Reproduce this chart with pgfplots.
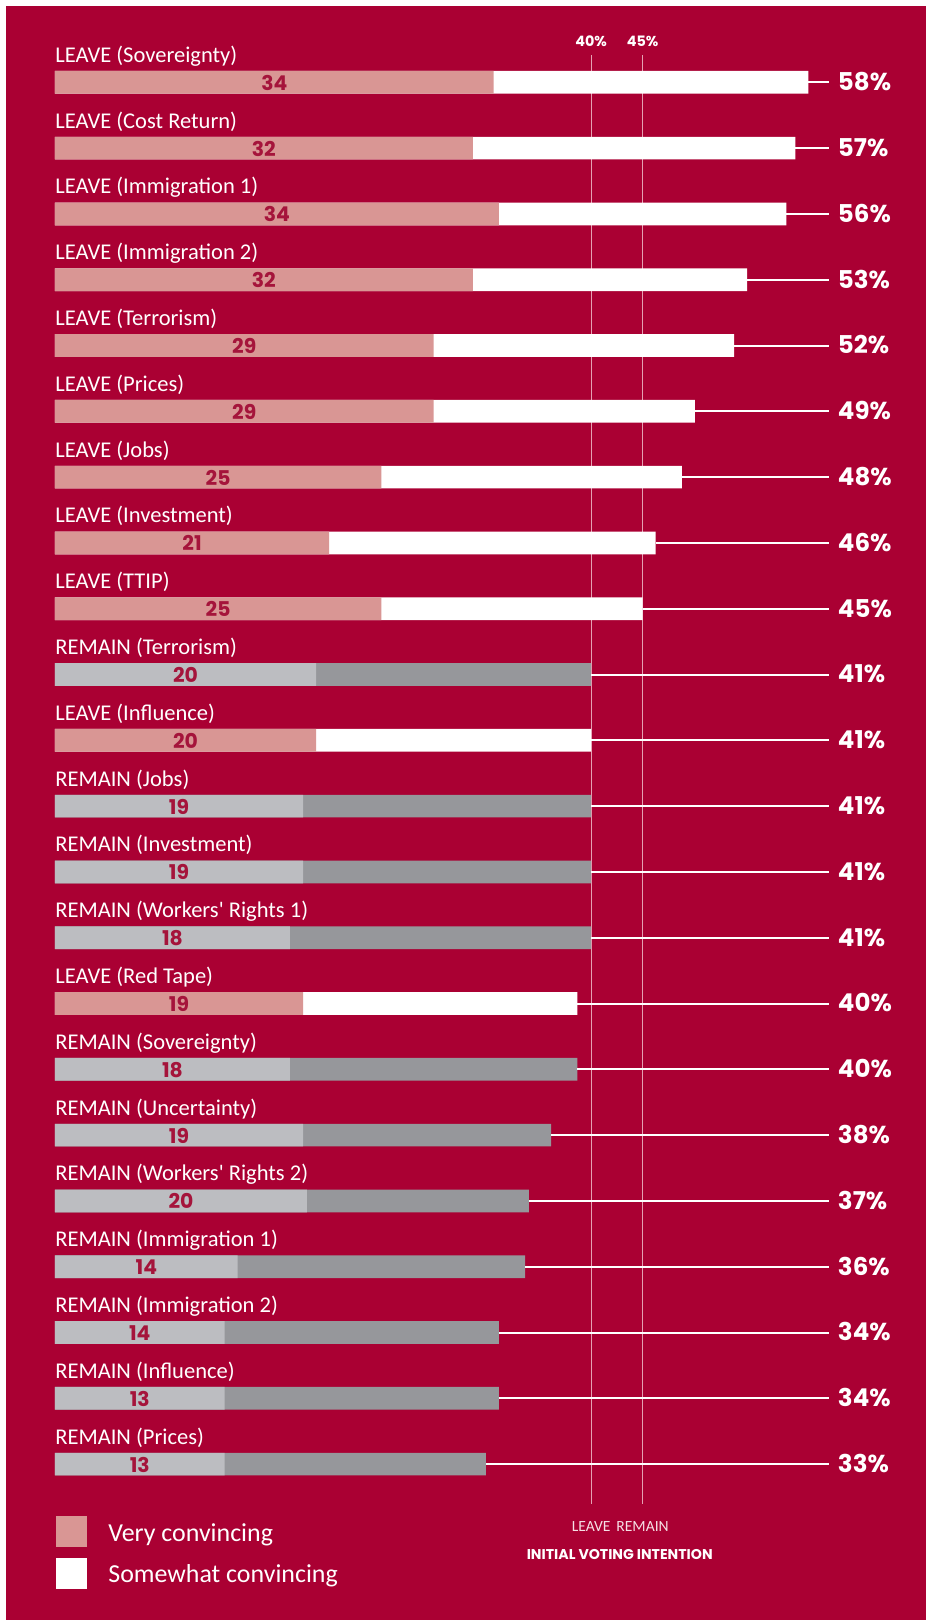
\documentclass[border=0pt]{standalone}
\usepackage{pgfplots}
\usepackage{pgfplotstable}
\pgfplotsset{compat=1.18}
\usepackage{fontspec}
\setmainfont{Carlito}
\newfontfamily\numfont{Poppins}
\definecolor{bgred}{HTML}{AA0033}
\definecolor{pinkbar}{HTML}{D99694}
\definecolor{lgray}{HTML}{BCBDC1}
\definecolor{dgray}{HTML}{96979B}
\definecolor{numred}{HTML}{A5143B}
\definecolor{refline}{HTML}{E5A0B2}
\definecolor{softwhite}{HTML}{F6E0E5}
\newcommand\labfont{\fontsize{11.3pt}{13pt}\selectfont}
\newcommand\valfont{\numfont\bfseries\fontsize{10.2pt}{12pt}\selectfont}
\newcommand\pctfont{\numfont\bfseries\fontsize{12.3pt}{14pt}\selectfont}
\newcommand\smallbold{\numfont\bfseries\fontsize{7.2pt}{9pt}\selectfont}
\pgfplotstableread[col sep=comma]{
idx,t,very,total,vlab,tlab,name
0,1,33.6,57.7,34,58,LEAVE (Sovereignty)
1,1,32,56.7,32,57,LEAVE (Cost Return)
2,1,34,56,34,56,LEAVE (Immigration 1)
3,1,32,53,32,53,LEAVE (Immigration 2)
4,1,29,52,29,52,LEAVE (Terrorism)
5,1,29,49,29,49,LEAVE (Prices)
6,1,25,48,25,48,LEAVE (Jobs)
7,1,21,46,21,46,LEAVE (Investment)
8,1,25,45,25,45,LEAVE (TTIP)
9,0,20,41.06,20,41,REMAIN (Terrorism)
10,1,20,41.06,20,41,LEAVE (Influence)
11,0,19,41.06,19,41,REMAIN (Jobs)
12,0,19,41.06,19,41,REMAIN (Investment)
13,0,18,41.06,18,41,REMAIN (Workers\textquotesingle{} Rights 1)
14,1,19,40,19,40,LEAVE (Red Tape)
15,0,18,40,18,40,REMAIN (Sovereignty)
16,0,19,38,19,38,REMAIN (Uncertainty)
17,0,19.3,36.3,20,37,REMAIN (Workers\textquotesingle{} Rights 2)
18,0,14,36,14,36,REMAIN (Immigration 1)
19,0,13,34,14,34,REMAIN (Immigration 2)
20,0,13,34,13,34,REMAIN (Influence)
21,0,13,33,13,33,REMAIN (Prices)
}\data
\begin{document}
\begin{tikzpicture}
\begin{axis}[
  scale only axis, width=463bp, height=810bp,
  xmin=-4.2037, xmax=66.700, ymin=-1.2508, ymax=23.369,
  y dir=reverse,
  axis line style={draw=none}, xtick=\empty, ytick=\empty,
  tick style={draw=none},
  clip=false,
]
% background
\fill[white] (axis cs:-4.2037,-1.2508) rectangle (axis cs:66.700,23.369);
\fill[bgred] (axis cs:-3.744,-1.1596) rectangle (axis cs:66.700,23.369);
% reference lines
\addplot[refline, line width=0.55pt, mark=none] coordinates {(41.06,-0.415) (41.06,21.607)};
\addplot[refline, line width=0.55pt, mark=none] coordinates {(45.0,-0.415) (45.0,21.607)};
% total bars
\addplot[xbar, bar shift=0pt, bar width=0.345, fill=white, draw=none,
  restrict expr to domain={\thisrow{t}}{0.5:1.5}] table[x=total, y=idx]{\data};
\addplot[xbar, bar shift=0pt, bar width=0.345, fill=dgray, draw=none,
  restrict expr to domain={\thisrow{t}}{-0.5:0.5}] table[x=total, y=idx]{\data};
% very convincing bars
\addplot[xbar, bar shift=0pt, bar width=0.345, fill=pinkbar, draw=none,
  restrict expr to domain={\thisrow{t}}{0.5:1.5}] table[x=very, y=idx]{\data};
\addplot[xbar, bar shift=0pt, bar width=0.345, fill=lgray, draw=none,
  restrict expr to domain={\thisrow{t}}{-0.5:0.5}] table[x=very, y=idx]{\data};
% leader lines
\addplot[draw=none, mark=none,
  error bars/.cd, x dir=plus, x explicit, error mark=none,
  error bar style={draw=white, line width=1pt}]
  table[x=total, y=idx, x error expr=59.27-\thisrow{total}]{\data};
% category labels
\addplot[draw=none, mark=none, nodes near coords, point meta=explicit symbolic,
  nodes near coords style={anchor=base west, inner sep=0pt, font=\labfont, text=white}]
  table[x expr=0, y expr=\thisrow{idx}-0.304, meta=name]{\data};
% value labels
\addplot[draw=none, mark=none, nodes near coords, point meta=explicit symbolic,
  nodes near coords style={anchor=base, inner sep=0pt, font=\valfont, text=numred}]
  table[x expr=\thisrow{very}/2, y expr=\thisrow{idx}+0.12, meta=vlab]{\data};
% percentage labels
\addplot[draw=none, mark=none, nodes near coords={\pgfplotspointmeta\%}, point meta=explicit symbolic,
  nodes near coords style={anchor=base west, inner sep=0pt, font=\pctfont, text=white}]
  table[x expr=59.93, y expr=\thisrow{idx}+0.128, meta=tlab]{\data};
% annotations
\node[anchor=base, inner sep=0pt, font=\smallbold, text=white] at (axis cs:41.06,-0.541) {40\%};
\node[anchor=base, inner sep=0pt, font=\smallbold, text=white] at (axis cs:45.0,-0.541) {45\%};
\node[anchor=base, inner sep=0pt, font=\fontsize{7.8pt}{9pt}\selectfont, text=softwhite] at (axis cs:41.06,22.028) {LEAVE};
\node[anchor=base, inner sep=0pt, font=\fontsize{7.8pt}{9pt}\selectfont, text=softwhite] at (axis cs:45.0,22.028) {REMAIN};
\node[anchor=base, inner sep=0pt, font=\numfont\bfseries\fontsize{7.1pt}{9pt}\selectfont, text=white] at (axis cs:43.25,22.442) {INITIAL VOTING INTENTION};
% legend
\fill[pinkbar] (axis cs:0.084,21.784) rectangle (axis cs:2.458,22.255);
\fill[white] (axis cs:0.084,22.427) rectangle (axis cs:2.458,22.894);
\node[anchor=base west, inner sep=0pt, font=\fontsize{13pt}{15pt}\selectfont, text=white] at (axis cs:4.066,22.18) {Very convincing};
\node[anchor=base west, inner sep=0pt, font=\fontsize{13pt}{15pt}\selectfont, text=white] at (axis cs:4.066,22.802) {Somewhat convincing};
\end{axis}
\pgfresetboundingbox
\path[use as bounding box] (current axis.south west) rectangle (current axis.north east);
\end{tikzpicture}
\end{document}
